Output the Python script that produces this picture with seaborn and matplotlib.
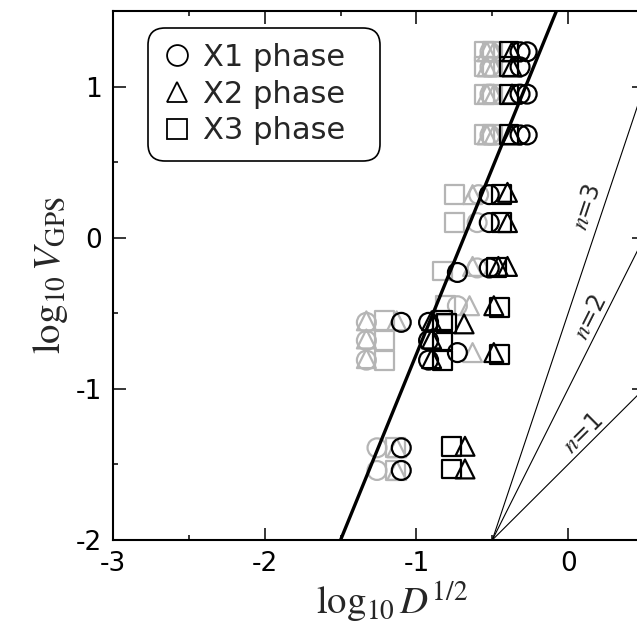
import numpy as np
import pandas as pd
import matplotlib
matplotlib.use('Agg')
import matplotlib.pyplot as plt
import seaborn as sns
from matplotlib.lines import Line2D
from matplotlib.ticker import MultipleLocator

# ---- data (log10 D^1/2 , log10 V_GPS) ----
# gray symbols
gray_x1_x = [-0.515, -0.515, -0.515, -0.515, -0.59, -0.60, -0.60, -0.73, -1.33, -1.33, -1.33, -1.26, -1.26]
gray_x1_y = [1.23, 1.13, 0.95, 0.68, 0.285, 0.10, -0.20, -0.45, -0.56, -0.68, -0.81, -1.39, -1.54]
gray_x2_x = [-0.535, -0.49, -0.535, -0.49, -0.535, -0.49, -0.535, -0.49, -0.63, -0.63, -0.65,
             -1.33, -1.13, -1.33, -1.33, -0.63, -1.13, -1.13]
gray_x2_y = [1.23, 1.23, 1.13, 1.13, 0.95, 0.95, 0.68, 0.68, 0.285, -0.19, -0.45,
             -0.55, -0.55, -0.67, -0.80, -0.76, -1.39, -1.54]
gray_x3_x = [-0.55, -0.50, -0.55, -0.50, -0.55, -0.50, -0.55, -0.50, -0.75, -0.75, -0.83, -0.81,
             -1.21, -1.21, -1.21, -1.14, -1.14]
gray_x3_y = [1.23, 1.23, 1.13, 1.13, 0.95, 0.95, 0.68, 0.68, 0.285, 0.10, -0.22, -0.45,
             -0.55, -0.68, -0.81, -1.39, -1.54]

# black symbols
black_x1_x = [-0.317, -0.27, -0.317, -0.317, -0.27, -0.317, -0.27, -0.52, -0.52, -0.52, -0.73,
              -1.10, -0.92, -0.92, -0.92, -0.73, -1.10, -1.10]
black_x1_y = [1.23, 1.23, 1.13, 0.95, 0.95, 0.68, 0.68, 0.285, 0.10, -0.20, -0.23,
              -0.56, -0.56, -0.68, -0.81, -0.76, -1.39, -1.54]
black_x2_x = [-0.37, -0.37, -0.37, -0.37, -0.40, -0.40, -0.46, -0.40, -0.49,
              -0.90, -0.686, -0.90, -0.90, -0.49, -0.68, -0.68]
black_x2_y = [1.23, 1.13, 0.95, 0.68, 0.30, 0.10, -0.19, -0.19, -0.45,
              -0.55, -0.57, -0.67, -0.80, -0.76, -1.38, -1.53]
black_x3_x = [-0.39, -0.39, -0.39, -0.39, -0.44, -0.44, -0.47, -0.45,
              -0.83, -0.80, -0.83, -0.83, -0.45, -0.77, -0.77]
black_x3_y = [1.23, 1.13, 0.95, 0.68, 0.285, 0.10, -0.20, -0.46,
              -0.55, -0.57, -0.68, -0.81, -0.77, -1.38, -1.53]

# fitted line and reference lines V ~ D^(n/2)
fit_slope, fit_intercept = 2.46, 1.69
ref_origin = (-0.5, -2.0)
ref_n = [1, 2, 3]
ref_label_pos = {1: (0.098, -1.294), 2: (0.144, -0.524), 3: (0.125, 0.206)}

phases = ['X1', 'X2', 'X3']
frames = []
for grp, xs, ys in [('gray', [gray_x1_x, gray_x2_x, gray_x3_x], [gray_x1_y, gray_x2_y, gray_x3_y]),
                    ('black', [black_x1_x, black_x2_x, black_x3_x], [black_x1_y, black_x2_y, black_x3_y])]:
    for ph, xx, yy in zip(phases, xs, ys):
        frames.append(pd.DataFrame({'x': xx, 'y': yy, 'phase': ph, 'set': grp}))
df = pd.concat(frames, ignore_index=True)

sns.set_style('ticks')
plt.rcParams['font.family'] = ['DejaVu Sans']
plt.rcParams['mathtext.fontset'] = 'stix'
plt.rcParams['axes.unicode_minus'] = False

fig = plt.figure(figsize=(6.37, 6.35), dpi=100)
ax = fig.add_axes([0.1774, 0.1496, 0.8336, 0.8331])

markers = {'X1': 'o', 'X2': '^', 'X3': 's'}
colors = {'gray': '#b5b5b5', 'black': 'black'}
for grp in ['gray', 'black']:
    sub = df[df['set'] == grp]
    sns.scatterplot(data=sub, x='x', y='y', style='phase', markers=markers,
                    color=colors[grp], s=185, ax=ax, legend=False, zorder=3)
    pts = ax.collections[-1]
    pts.set_facecolor('none')
    pts.set_edgecolor(colors[grp])
    pts.set_linewidth(1.6)

# fitted line
fx = np.array([-1.7, 0.1])
sns.lineplot(x=fx, y=fit_intercept + fit_slope * fx, color='black', lw=2.4, ax=ax, zorder=4)

ax.set_xlim(-3, 0.5)
ax.set_ylim(-2, 1.5)

# n lines
for n in ref_n:
    rx = np.array([ref_origin[0], 0.6])
    ry = ref_origin[1] + n * (rx - ref_origin[0])
    sns.lineplot(x=rx, y=ry, color='black', lw=0.8, ax=ax)
    p0 = ax.transData.transform((0, 0))
    p1 = ax.transData.transform((1, n))
    ang = np.degrees(np.arctan2(p1[1] - p0[1], p1[0] - p0[0]))
    tx, ty = ref_label_pos[n]
    ax.text(tx, ty, r'$n$=' + str(n), rotation=ang, ha='center', va='center',
            rotation_mode='anchor', fontsize=17)

ax.xaxis.set_major_locator(MultipleLocator(1))
ax.xaxis.set_minor_locator(MultipleLocator(0.5))
ax.yaxis.set_major_locator(MultipleLocator(1))
ax.yaxis.set_minor_locator(MultipleLocator(0.5))
ax.tick_params(which='both', direction='in', top=True, right=True, width=1.1, colors='black')
ax.tick_params(which='major', length=9, labelsize=19, pad=8)
ax.tick_params(which='minor', length=3.5)
for sp in ax.spines.values():
    sp.set_linewidth(1.5)
    sp.set_color('black')

ax.set_xlabel(r'$\log_{10}D^{1/2}$', fontsize=28)
ax.xaxis.set_label_coords(0.525, -0.075)
ax.set_ylabel(r'$\log_{10}V_{\rm GPS}$', fontsize=28, labelpad=4)

handles = [Line2D([], [], marker=markers[p], ls='none', mfc='none', mec='black', mew=1.3, ms=15,
                  label=f'{p} phase  ') for p in phases]
leg = ax.legend(handles=handles, loc='upper left', bbox_to_anchor=(0.066, 0.968), borderaxespad=0,
                fontsize=22, frameon=True, fancybox=True, edgecolor='black', framealpha=1,
                handlelength=0.9, handletextpad=0.4, labelspacing=0.25, borderpad=0.5)
leg.get_frame().set_linewidth(1.2)
leg.get_frame().set_boxstyle('round', pad=0, rounding_size=0.55)

fig.savefig('out.png', dpi=100, facecolor='white')
